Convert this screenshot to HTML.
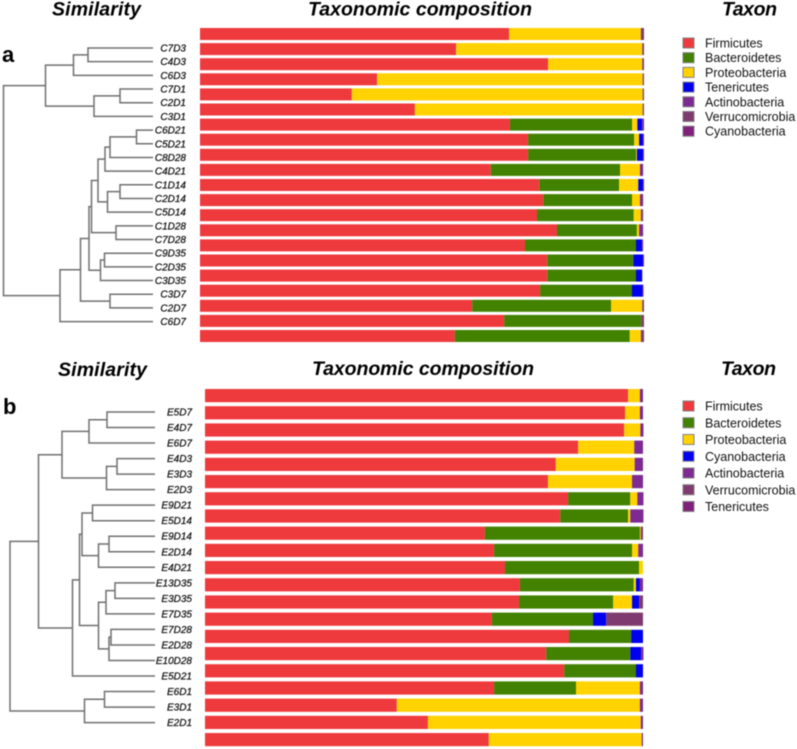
<!DOCTYPE html>
<html lang="en">
<head>
<meta charset="utf-8">
<title>Similarity and taxonomic composition</title>
<style>
html,body{margin:0;padding:0;background:#fff;width:797px;height:749px;overflow:hidden}
svg{display:block;filter:blur(.4px)}
text{font-family:"Liberation Sans",sans-serif}
.title{font-weight:bold;font-style:italic;font-size:19.5px;fill:#000}
.tag{font-weight:bold;font-size:22px;fill:#000}
.leaf{font-style:italic;font-size:10px;fill:#111;stroke:#111;stroke-width:.25}
.legend{font-size:12.5px;fill:#111}
</style>
</head>
<body>
<svg id="chart" width="797" height="749" viewBox="0 0 797 749" xmlns="http://www.w3.org/2000/svg">
<text class="tag" x="2" y="62">a</text>
<text class="title" x="52" y="15.5" textLength="89">Similarity</text>
<text class="title" x="308" y="15.5" textLength="224">Taxonomic composition</text>
<text class="title" x="722" y="15.5" textLength="55">Taxon</text>
<text class="tag" x="3" y="414">b</text>
<text class="title" x="58" y="376" textLength="89">Similarity</text>
<text class="title" x="312" y="375" textLength="222">Taxonomic composition</text>
<text class="title" x="721" y="375" textLength="55">Taxon</text>
</svg>
<script>
// Panel a data (percent per sample, top to bottom)
const firmicutesA = [69.6,57.7,78.4,39.9,34.2,48.4,69.8,73.9,73.9,65.5,76.4,77.3,75.9,80.4,73.2,78.2,78.2,76.6,61.3,68.5,57.4];
const bacteroidetesA = [0,0,0,0,0,0,27.5,23.9,24.3,29.1,18,20,21.8,18,25,19.4,20,20.7,31.3,30.9,39.4];
const proteobacteriaA = [29.7,41.9,21.2,59.8,65.5,51.3,1.2,1.1,0.2,4.5,4.3,1.8,1.6,0.5,0,0,0,0,7,0,2.5];
const tenericutesA = [0,0,0,0,0,0,1.1,0.9,1.4,0,1.1,0,0,0,1.4,2.2,1.4,2.4,0,0,0];
const actinobacteriaA = [0,0,0,0,0,0,0.4,0.2,0.2,0.7,0.2,0.7,0,0.9,0.2,0.2,0,0.2,0,0,0];
const verrucomicrobiaA = [0.7,0.4,0.4,0.3,0.3,0.3,0,0,0,0,0,0,0.5,0,0,0,0,0,0.4,0.6,0.7];
const cyanobacteriaA = [0,0,0,0,0,0,0,0,0,0,0,0,0,0,0,0,0,0,0,0,0];
// Panel b data
const firmicutesB = [96.6,95.9,95.7,85.2,80.1,78.3,82.9,81.1,63.9,66,68.5,71.9,71.7,65.5,83.1,77.9,82,66,43.8,50.9,64.8];
const bacteroidetesB = [0,0,0,0,0,0,14.2,15.5,35.4,31.5,30.6,26,21.5,23.1,14.2,19.2,16.4,18.7,0,0,0];
const proteobacteriaB = [2.7,3.4,3.7,12.8,18,19.2,1.6,0.5,0.2,1.4,0.9,0.5,4.3,0,0,0,0,14.6,55.5,48.6,34.9];
const cyanobacteriaB = [0,0,0,0,0,0,0,0,0,0,0,0.9,1.6,3,2.7,2.5,1.6,0,0,0,0];
const actinobacteriaB = [0.7,0.7,0.7,2,1.9,2.5,1.4,3,0,1.1,0,0.7,0,0,0,0.5,0,0.7,0.7,0.5,0.3];
const verrucomicrobiaB = [0,0,0,0,0,0,0,0,0.5,0,0,0,0.9,8.4,0,0,0,0,0,0,0];
const tenericutesB = [0,0,0,0,0,0,0,0,0,0,0,0,0,0,0,0,0,0,0,0,0];
// Legend names and stack colours
const taxaA = ['Firmicutes','Bacteroidetes','Proteobacteria','Tenericutes','Actinobacteria','Verrucomicrobia','Cyanobacteria'];
const taxaB = ['Firmicutes','Bacteroidetes','Proteobacteria','Cyanobacteria','Actinobacteria','Verrucomicrobia','Tenericutes'];
const colorsA = ['#ef3a3d','#428200','#ffd200','#0000ee','#7d2a92','#7f3b6f','#80207a'];
const colorsB = ['#ef3a3d','#428200','#ffd200','#0000ee','#7d2a92','#7f3b6f','#80207a'];
// Dendrograms: [merge distance, child, child]; strings are leaf samples
const treeA = [149.5,
  [107.5,
    [79.5,[65,'C7D3','C4D3'],'C6D3'],
    [59,[33,'C7D1','C2D1'],'C3D1']],
  [93,
    [72.5,
      [64,
        [61.5,
          [55,
            [48,[43,[16.5,'C6D21','C5D21'],'C8D28'],'C4D21'],
            [45.5,[33,'C1D14','C2D14'],'C5D14']],
          [37,'C1D28','C7D28']],
        [52.5,[48.5,'C9D35','C2D35'],'C3D35']],
      [43,'C3D7','C2D7']],
    'C6D7']];
const treeB = [145,
  [116.5,
    [93,
      [66,[48,'E5D7','E4D7'],'E6D7'],
      [48.5,[38,'E4D3','E3D3'],'E2D3']],
    [82.5,
      [75.5,
        [73,
          [62.5,'E9D21','E5D14'],
          [56.5,[46,'E9D14','E2D14'],'E4D21']],
        [56.5,
          [49,[40,'E13D35','E3D35'],'E7D35'],
          [46,[44,'E7D28','E2D28'],'E10D28']]],
      'E5D21']],
  [70.5,[50.5,'E6D1','E3D1'],'E2D1']];

const svg = document.getElementById('chart');
const NS = 'http://www.w3.org/2000/svg';
function mk(tag, attrs, parent){
  const e = document.createElementNS(NS, tag);
  for (const k in attrs) e.setAttribute(k, attrs[k]);
  parent.appendChild(e);
  return e;
}
function drawBars(series, colors, taxa, cfg){
  const xScale = v => cfg.x0 + v * cfg.k;
  const yScale = i => cfg.top + i * cfg.step;
  series[0].forEach((_, i) => {
    const row = mk('g', {}, svg);
    
    
    let acc = 0;
    series.forEach((vals, s) => {
      if (vals[i] <= 0) return;
      const r = mk('rect', {x: xScale(acc), y: yScale(i), width: vals[i] * cfg.k, height: cfg.h, fill: colors[s]}, row);
      
      
      acc += vals[i];
    });
  });
}
function drawTree(tree, cfg){
  const g = mk('g', {fill: 'none', stroke: '#707070', 'stroke-width': 1.5}, svg);
  
  
  const xScale = d => cfg.tip - d;
  const yScale = i => cfg.y0 + i * cfg.dy;
  let idx = 0;
  function walk(n){
    if (typeof n === 'string'){
      const y = yScale(idx++);
      const t = mk('text', {class: 'leaf', x: cfg.labelX, y: y + 3.5, 'text-anchor': 'end'}, svg);
      t.textContent = n;
      
      
      return {x: xScale(0), y: y};
    }
    const x = xScale(n[0]);
    const a = walk(n[1]);
    const b = walk(n[2]);
    const p = mk('path', {d: 'M' + a.x + ' ' + a.y + 'H' + x + 'V' + b.y + 'H' + b.x}, g);
    
    
    return {x: x, y: (a.y + b.y) / 2};
  }
  walk(tree);
}
function drawLegend(taxa, colors, cfg){
  taxa.forEach((name, i) => {
    const y = cfg.y0 + i * cfg.dy;
    const g = mk('g', {}, svg);
    
    
    const sw = mk('rect', {x: 683, y: y - 5, width: 11, height: 10, fill: colors[i], stroke: '#808080', 'stroke-width': 1}, g);
    
    
    const t = mk('text', {class: 'legend', x: 705, y: y + 4.5}, g);
    t.textContent = name;
    
    
  });
}
drawBars([firmicutesA,bacteroidetesA,proteobacteriaA,tenericutesA,actinobacteriaA,verrucomicrobiaA,cyanobacteriaA], colorsA, taxaA,
  {id:'panel-a', x0:200, k:4.44, top:28, step:15.1, h:12});
drawBars([firmicutesB,bacteroidetesB,proteobacteriaB,cyanobacteriaB,actinobacteriaB,verrucomicrobiaB,tenericutesB], colorsB, taxaB,
  {id:'panel-b', x0:205, k:4.38, top:389, step:17.2, h:13.2});
drawTree(treeA, {id:'panel-a', tip:153, y0:48, dy:13.68, labelX:186});
drawTree(treeB, {id:'panel-b', tip:155, y0:412, dy:15.53, labelX:192});
drawLegend(taxaA, colorsA, {y0:43, dy:14.7});
drawLegend(taxaB, colorsB, {y0:406, dy:16.75});
</script>
</body>
</html>
